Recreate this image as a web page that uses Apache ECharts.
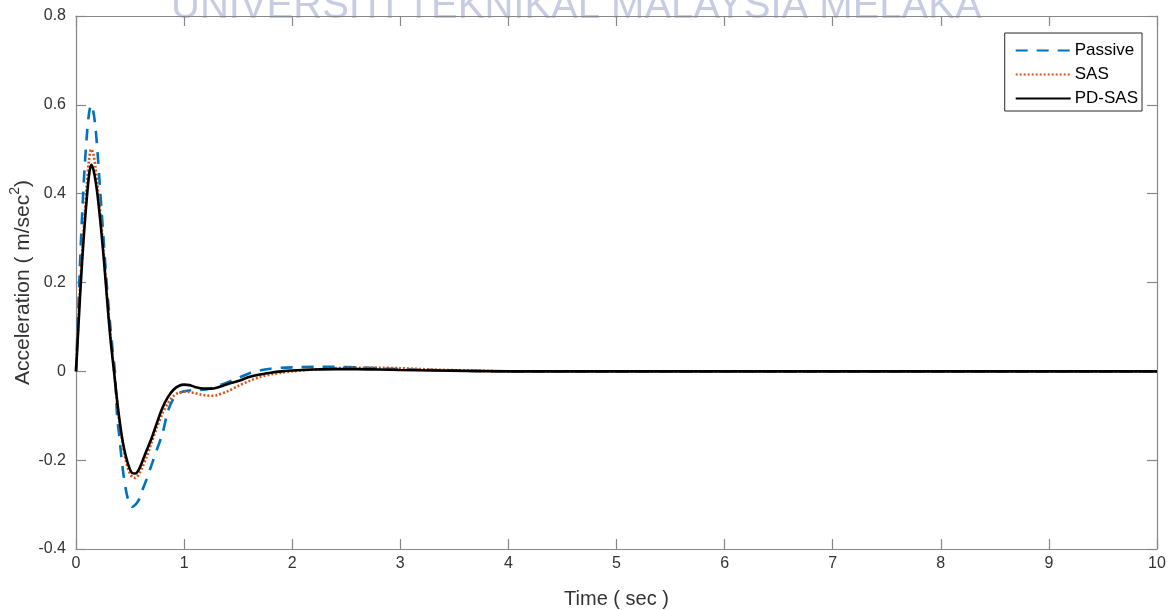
<!DOCTYPE html>
<html>
<head>
<meta charset="utf-8">
<script src="https://cdn.jsdelivr.net/npm/echarts@6/dist/echarts.min.js"></script>
<style>
html,body{margin:0;padding:0;background:#fff;}
#chart{width:1174px;height:610px;}
</style>
</head>
<body>
<div id="chart"></div>
<script>
// ---- data ----
const time = [0,0.02,0.04,0.06,0.08,0.1,0.12,0.14,0.16,0.18,0.2,0.22,0.24,0.26,0.28,0.3,0.32,0.34,0.36,0.38,0.4,0.43,0.46,0.49,0.52,0.55,0.58,0.61,0.65,0.7,0.75,0.8,0.85,0.9,0.95,1.0,1.05,1.1,1.15,1.2,1.25,1.3,1.4,1.5,1.6,1.7,1.8,1.9,2.0,2.2,2.4,2.6,2.8,3.0,3.3,3.6,4.0,4.5,5,6,7,8,9,10];
const passive = [0,0.13,0.26,0.37,0.46,0.53,0.58,0.6,0.585,0.55,0.49,0.42,0.35,0.28,0.21,0.15,0.095,0.045,0.0,-0.1,-0.145,-0.215,-0.265,-0.295,-0.305,-0.3,-0.29,-0.27,-0.245,-0.21,-0.175,-0.14,-0.09,-0.062,-0.05,-0.045,-0.043,-0.042,-0.042,-0.041,-0.038,-0.034,-0.025,-0.015,-0.005,0.002,0.006,0.008,0.009,0.01,0.01,0.009,0.007,0.005,0.003,0.001,0,0,0,0,0,0,0,0];
const sas = [0,0.1,0.2,0.28,0.35,0.42,0.475,0.5,0.49,0.46,0.415,0.37,0.315,0.255,0.19,0.13,0.075,0.03,-0.02,-0.07,-0.11,-0.16,-0.2,-0.225,-0.238,-0.24,-0.232,-0.218,-0.195,-0.16,-0.125,-0.095,-0.072,-0.056,-0.048,-0.046,-0.047,-0.049,-0.052,-0.054,-0.055,-0.054,-0.045,-0.033,-0.022,-0.013,-0.007,-0.003,0,0.004,0.007,0.008,0.008,0.007,0.004,0.002,0,0,0,0,0,0,0,0];
const pdsas = [0,0.09,0.18,0.26,0.33,0.39,0.44,0.465,0.455,0.43,0.395,0.35,0.30,0.245,0.185,0.125,0.07,0.025,-0.02,-0.065,-0.105,-0.155,-0.19,-0.215,-0.229,-0.23,-0.222,-0.205,-0.18,-0.15,-0.115,-0.082,-0.058,-0.042,-0.033,-0.03,-0.031,-0.035,-0.038,-0.039,-0.039,-0.037,-0.029,-0.022,-0.013,-0.007,-0.003,0,0.002,0.004,0.005,0.005,0.004,0.003,0.002,0.001,0,0,0,0,0,0,0,0];
const seriesNames = ['Passive','SAS','PD-SAS'];
const xTicks = {min:0, max:10, interval:1};
const yTicks = {min:-0.4, max:0.8, interval:0.2};
const xLabel = 'Time ( sec )';
const yLabelMain = 'Acceleration ( m/sec';
const yLabelSup = '2';
const watermark = 'UNIVERSITI TEKNIKAL MALAYSIA MELAKA';

const pair = (vals) => time.map((t,i)=>[t, vals[i]]);
const FONT = 'Liberation Sans, Arial, sans-serif';
const axisCol = '#888888';
const txtCol = '#333333';

const chart = echarts.init(document.getElementById('chart'), null, {renderer:'canvas'});
const baseAxis = {
  axisLine:{show:true, onZero:false, lineStyle:{color:axisCol, width:1.2}},
  axisTick:{show:true, inside:true, length:10, lineStyle:{color:axisCol, width:1.2}},
  splitLine:{show:false}
};
chart.setOption({
  animation:false,
  backgroundColor:'#ffffff',
  graphic:[{
    type:'text', z:-10, left:171, top:-13,
    style:{text:watermark, font:'40px ' + FONT, fill:'#c8cce2'}
  }],
  grid:{left:76, right:17, top:16, bottom:61, containLabel:false, outerBoundsMode:'none'},
  legend:{
    orient:'vertical', right:32, top:33,
    backgroundColor:'#ffffff', borderColor:'#262626', borderWidth:1,
    padding:[9,4,4,10], itemGap:7, itemWidth:55, itemHeight:14,
    itemStyle:{opacity:0},
    textStyle:{fontFamily:FONT, fontSize:17, color:'#000', padding:[0,0,0,-1]},
    data:seriesNames
  },
  xAxis:[
    Object.assign({type:'value', position:'bottom', min:xTicks.min, max:xTicks.max, interval:xTicks.interval,
      name:xLabel, nameLocation:'middle', nameGap:40, nameMoveOverlap:false,
      nameTextStyle:{fontFamily:FONT, fontSize:20, color:txtCol},
      axisLabel:{fontFamily:FONT, fontSize:16, color:txtCol, margin:7}}, baseAxis),
    Object.assign({type:'value', position:'top', min:xTicks.min, max:xTicks.max, interval:xTicks.interval,
      axisLabel:{show:false}}, baseAxis)
  ],
  yAxis:[
    Object.assign({type:'value', position:'left', min:yTicks.min, max:yTicks.max, interval:yTicks.interval,
      name:'{m|' + yLabelMain + '}{s|' + yLabelSup + '}{m|)}', nameLocation:'middle', nameGap:42, nameRotate:90,
      nameMoveOverlap:false,
      nameTextStyle:{fontFamily:FONT, fontSize:21, color:txtCol,
        rich:{
          m:{fontFamily:FONT, fontSize:21, color:txtCol, lineHeight:26, verticalAlign:'bottom'},
          s:{fontFamily:FONT, fontSize:14, color:txtCol, lineHeight:14, verticalAlign:'top'}
        }},
      axisLabel:{fontFamily:FONT, fontSize:16, color:txtCol, margin:10,
        formatter:(v)=>String(Math.round(v*10)/10)}}, baseAxis),
    Object.assign({type:'value', position:'right', min:yTicks.min, max:yTicks.max, interval:yTicks.interval,
      axisLabel:{show:false}}, baseAxis)
  ],
  series:[
    {name:seriesNames[0], type:'line', data:pair(passive), symbol:'none', smooth:0.3, z:2,
     lineStyle:{color:'#0072BD', width:2.6, type:[12,9]}, itemStyle:{color:'#0072BD'}},
    {name:seriesNames[1], type:'line', data:pair(sas), symbol:'none', smooth:0.3, z:3,
     lineStyle:{color:'#D95319', width:2.6, type:[2,2]}, itemStyle:{color:'#D95319'}},
    {name:seriesNames[2], type:'line', data:pair(pdsas), symbol:'none', smooth:0.3, z:4,
     lineStyle:{color:'#000000', width:2.6}, itemStyle:{color:'#000000'}}
  ]
});
</script>
</body>
</html>
